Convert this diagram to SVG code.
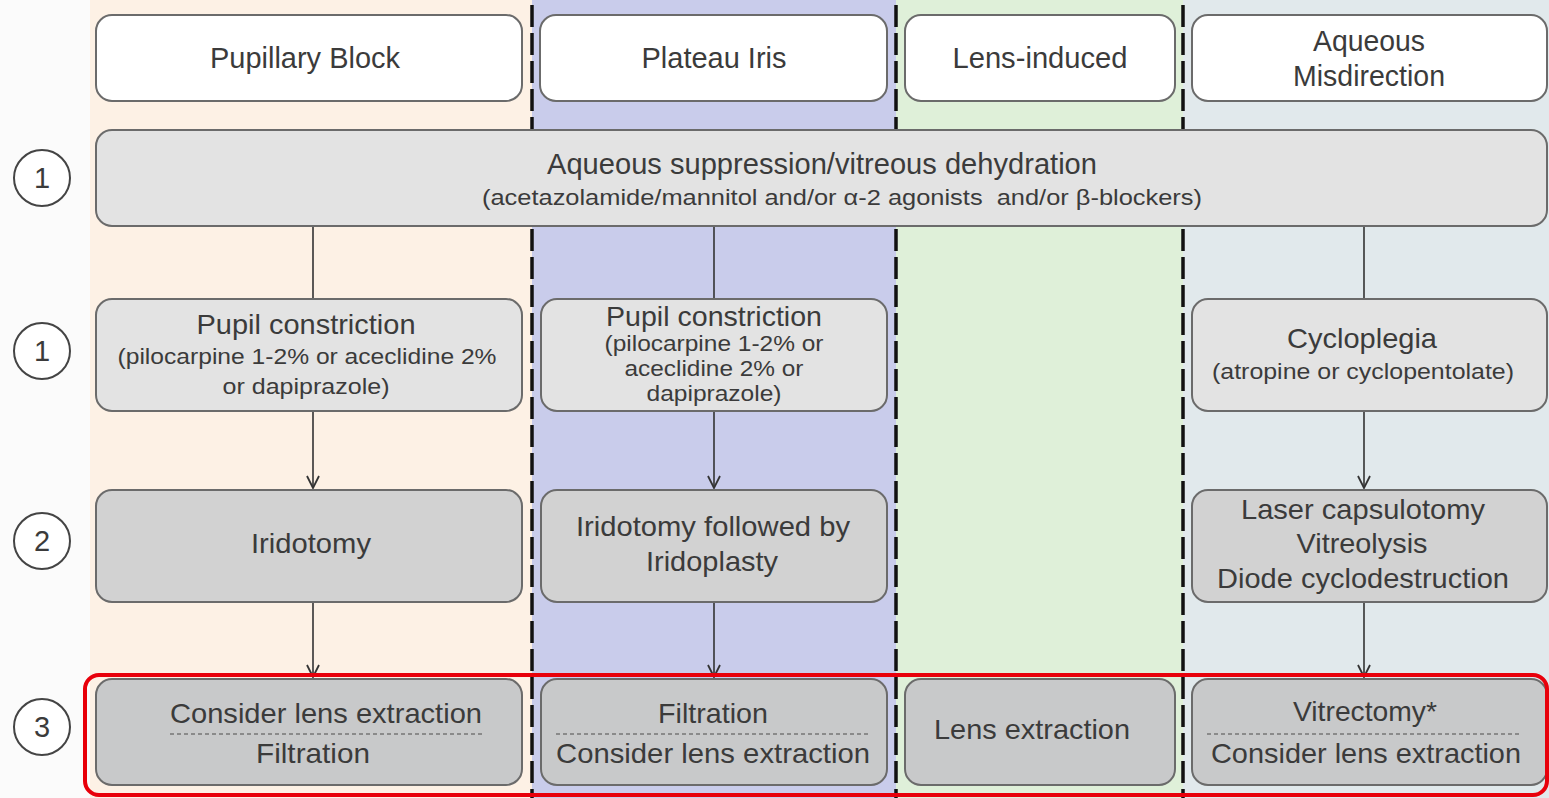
<svg xmlns="http://www.w3.org/2000/svg" width="1549" height="798" viewBox="0 0 1549 798">
<defs>
<style>
.t{font-family:"Liberation Sans",Arial,sans-serif;fill:#3b3b3b;text-anchor:middle;dominant-baseline:central}
.big{font-size:29px}
.mid{font-size:28px}
.sm{font-size:22px}
.hdr{fill:#ffffff;stroke:#6b6b6b;stroke-width:2}
.b1{fill:#e3e3e3;stroke:#6b6b6b;stroke-width:2}
.b2{fill:#d2d2d2;stroke:#6b6b6b;stroke-width:2}
.b3{fill:#c8c9ca;stroke:#6b6b6b;stroke-width:2}
.sep{stroke:#111;stroke-width:3.5;stroke-dasharray:22 6;fill:none}
.dot{stroke:#8a8a8a;stroke-width:2;stroke-dasharray:4 3}
.con{stroke:#333;stroke-width:1.6;fill:none}
.num{fill:#fff;stroke:#444;stroke-width:2}
</style>
<marker id="arr" markerWidth="16" markerHeight="16" refX="13" refY="7" orient="auto" markerUnits="userSpaceOnUse">
<path d="M1,1 L13,7 L1,13" fill="none" stroke="#333" stroke-width="1.8"/>
</marker>
</defs>
<g id="background">
<rect x="0" y="0" width="1549" height="798" fill="#fbfbfb"/>
<rect x="90" y="0" width="442" height="798" fill="#fdf1e5"/>
<rect x="532" y="0" width="364" height="798" fill="#c9cceb"/>
<rect x="896" y="0" width="287" height="798" fill="#dff0d9"/>
<rect x="1183" y="0" width="366" height="798" fill="#e1e9ec"/>
<line class="sep" x1="532" y1="5" x2="532" y2="798"/>
<line class="sep" x1="896" y1="5" x2="896" y2="798"/>
<line class="sep" x1="1183" y1="5" x2="1183" y2="798"/>
</g>
<g id="step-numbers">
<circle class="num" cx="42" cy="178" r="28"/><text class="t big" x="42" y="178">1</text>
<circle class="num" cx="42" cy="351" r="28"/><text class="t big" x="42" y="351">1</text>
<circle class="num" cx="42" cy="541" r="28"/><text class="t big" x="42" y="541">2</text>
<circle class="num" cx="42" cy="727" r="28"/><text class="t big" x="42" y="727">3</text>
</g>
<g id="connectors">
<line class="con" x1="313" y1="226" x2="313" y2="299"/>
<line class="con" x1="714" y1="226" x2="714" y2="299"/>
<line class="con" x1="1364" y1="226" x2="1364" y2="299"/>
<line class="con" x1="313" y1="411" x2="313" y2="488" marker-end="url(#arr)"/>
<line class="con" x1="714" y1="411" x2="714" y2="488" marker-end="url(#arr)"/>
<line class="con" x1="1364" y1="411" x2="1364" y2="488" marker-end="url(#arr)"/>
<line class="con" x1="313" y1="602" x2="313" y2="677" marker-end="url(#arr)"/>
<line class="con" x1="714" y1="602" x2="714" y2="677" marker-end="url(#arr)"/>
<line class="con" x1="1364" y1="602" x2="1364" y2="677" marker-end="url(#arr)"/>
</g>
<g id="hdr-pupillary"><rect class="hdr" x="96" y="15" width="426" height="86" rx="16"/><text class="t big" x="305" y="58" textLength="190" lengthAdjust="spacingAndGlyphs">Pupillary Block</text></g>
<g id="hdr-plateau"><rect class="hdr" x="540" y="15" width="347" height="86" rx="16"/><text class="t big" x="714" y="58" textLength="145" lengthAdjust="spacingAndGlyphs">Plateau Iris</text></g>
<g id="hdr-lens"><rect class="hdr" x="905" y="15" width="270" height="86" rx="16"/><text class="t big" x="1040" y="58" textLength="175" lengthAdjust="spacingAndGlyphs">Lens-induced</text></g>
<g id="hdr-aqueous"><rect class="hdr" x="1192" y="15" width="355" height="86" rx="16"/><text class="t big" x="1369" y="41" textLength="112" lengthAdjust="spacingAndGlyphs">Aqueous</text><text class="t big" x="1369" y="76" textLength="152" lengthAdjust="spacingAndGlyphs">Misdirection</text></g>
<g id="aqueous-suppression"><rect class="b1" x="96" y="130" width="1451" height="96" rx="16"/>
<text class="t big" x="822" y="164" textLength="550" lengthAdjust="spacingAndGlyphs">Aqueous suppression/vitreous dehydration</text>
<text class="t sm" x="842" y="197" textLength="720" lengthAdjust="spacingAndGlyphs">(acetazolamide/mannitol and/or α-2 agonists&#160; and/or β-blockers)</text></g>
<g id="pb-pupil"><rect class="b1" x="96" y="299" width="426" height="112" rx="16"/>
<text class="t mid" x="306" y="324" textLength="219" lengthAdjust="spacingAndGlyphs">Pupil constriction</text>
<text class="t sm" x="307" y="356" textLength="379" lengthAdjust="spacingAndGlyphs">(pilocarpine 1-2% or aceclidine 2%</text>
<text class="t sm" x="306" y="386" textLength="167" lengthAdjust="spacingAndGlyphs">or dapiprazole)</text></g>
<g id="pi-pupil"><rect class="b1" x="541" y="299" width="346" height="112" rx="16"/>
<text class="t mid" x="714" y="316" textLength="216" lengthAdjust="spacingAndGlyphs">Pupil constriction</text>
<text class="t sm" x="714" y="343" textLength="219" lengthAdjust="spacingAndGlyphs">(pilocarpine 1-2% or</text>
<text class="t sm" x="714" y="368" textLength="179" lengthAdjust="spacingAndGlyphs">aceclidine 2% or</text>
<text class="t sm" x="714" y="393" textLength="135" lengthAdjust="spacingAndGlyphs">dapiprazole)</text></g>
<g id="am-cycloplegia"><rect class="b1" x="1192" y="299" width="355" height="112" rx="16"/>
<text class="t mid" x="1362" y="338" textLength="150" lengthAdjust="spacingAndGlyphs">Cycloplegia</text>
<text class="t sm" x="1363" y="371" textLength="302" lengthAdjust="spacingAndGlyphs">(atropine or cyclopentolate)</text></g>
<g id="pb-iridotomy"><rect class="b2" x="96" y="490" width="426" height="112" rx="16"/>
<text class="t mid" x="311" y="543" textLength="120" lengthAdjust="spacingAndGlyphs">Iridotomy</text></g>
<g id="pi-iridoplasty"><rect class="b2" x="541" y="490" width="346" height="112" rx="16"/>
<text class="t mid" x="713" y="526" textLength="274" lengthAdjust="spacingAndGlyphs">Iridotomy followed by</text>
<text class="t mid" x="712" y="561" textLength="132" lengthAdjust="spacingAndGlyphs">Iridoplasty</text></g>
<g id="am-laser"><rect class="b2" x="1192" y="490" width="355" height="112" rx="16"/>
<text class="t mid" x="1363" y="509" textLength="244" lengthAdjust="spacingAndGlyphs">Laser capsulotomy</text>
<text class="t mid" x="1362" y="543" textLength="131" lengthAdjust="spacingAndGlyphs">Vitreolysis</text>
<text class="t mid" x="1363" y="578" textLength="292" lengthAdjust="spacingAndGlyphs">Diode cyclodestruction</text></g>
<g id="pb-step3"><rect class="b3" x="96" y="679" width="426" height="106" rx="16"/>
<text class="t mid" x="326" y="713" textLength="312" lengthAdjust="spacingAndGlyphs">Consider lens extraction</text>
<line class="dot" x1="170" y1="734" x2="482" y2="734"/>
<text class="t mid" x="313" y="753" textLength="114" lengthAdjust="spacingAndGlyphs">Filtration</text></g>
<g id="pi-step3"><rect class="b3" x="541" y="679" width="346" height="106" rx="16"/>
<text class="t mid" x="713" y="713" textLength="110" lengthAdjust="spacingAndGlyphs">Filtration</text>
<line class="dot" x1="556" y1="734" x2="870" y2="734"/>
<text class="t mid" x="713" y="753" textLength="314" lengthAdjust="spacingAndGlyphs">Consider lens extraction</text></g>
<g id="li-step3"><rect class="b3" x="905" y="679" width="270" height="106" rx="16"/>
<text class="t mid" x="1032" y="729" textLength="196" lengthAdjust="spacingAndGlyphs">Lens extraction</text></g>
<g id="am-step3"><rect class="b3" x="1192" y="679" width="355" height="106" rx="16"/>
<text class="t mid" x="1365" y="711" textLength="144" lengthAdjust="spacingAndGlyphs">Vitrectomy*</text>
<line class="dot" x1="1207" y1="734" x2="1521" y2="734"/>
<text class="t mid" x="1366" y="753" textLength="310" lengthAdjust="spacingAndGlyphs">Consider lens extraction</text></g>
<g id="highlight"><rect x="85" y="675" width="1462" height="120" rx="14" fill="none" stroke="#e8000b" stroke-width="4"/></g>
</svg>
